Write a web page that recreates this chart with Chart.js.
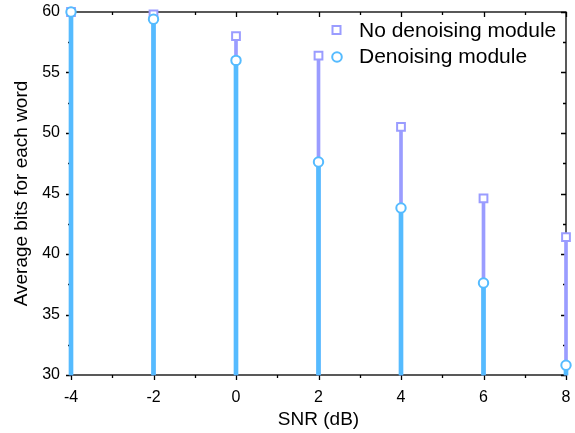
<!DOCTYPE html>
<html>
<head>
<meta charset="utf-8">
<script src="https://cdn.jsdelivr.net/npm/chart.js@4.4.1/dist/chart.umd.min.js"></script>
<style>
  html, body { margin: 0; padding: 0; background: #fff; }
  #wrap { width: 575px; height: 433px; }
</style>
</head>
<body>
<div id="wrap"><canvas id="snr_chart" width="575" height="433"></canvas></div>
<script>
// SNR values on the x axis
var snr = [-4, -2, 0, 2, 4, 6, 8];
// average bits per word
var noDenoise = [60, 59.8, 58.0, 56.4, 50.5, 44.6, 41.4];
var withDenoise = [60, 59.4, 56.0, 47.6, 43.8, 37.6, 30.8];
var seriesNames = ["No denoising module", "Denoising module"];
var xTicks = [-4, -2, 0, 2, 4, 6, 8];
var yTicks = [30, 35, 40, 45, 50, 55, 60];
var xTitle = "SNR (dB)";
var yTitle = "Average bits for each word";

var purple = "#9a9cff";
var blue = "#55bbff";

function pts(vals) {
  return snr.map(function (x, i) { return { x: x, y: vals[i] }; });
}

// frame and ticks go under the stems, like in the original plot
var framePlugin = {
  id: "frame",
  beforeDatasetsDraw: function (chart) {
    var ctx = chart.ctx, a = chart.chartArea;
    var xs = chart.scales.x, ys = chart.scales.y;
    ctx.save();
    ctx.strokeStyle = "#000";
    ctx.lineWidth = 1.3;
    ctx.strokeRect(a.left, a.top, a.right - a.left, a.bottom - a.top);
    ctx.beginPath();
    for (var v = -4; v <= 8; v++) {
      var px = Math.round(xs.getPixelForValue(v)) + 0.5;
      var len = (v % 2 === 0) ? 5 : 3;
      ctx.moveTo(px, a.bottom); ctx.lineTo(px, a.bottom + len);
      ctx.moveTo(px, a.top); ctx.lineTo(px, a.top + len);
    }
    for (var w = 30; w <= 60; w += 2.5) {
      var py = Math.round(ys.getPixelForValue(w)) + 0.5;
      var l2 = (w % 5 === 0) ? 5 : 3;
      ctx.moveTo(a.left, py); ctx.lineTo(a.left - l2, py);
      ctx.moveTo(a.right, py); ctx.lineTo(a.right - l2, py);
    }
    ctx.stroke();

    // axis titles
    ctx.fillStyle = "#000";
    ctx.textAlign = "center";
    ctx.textBaseline = "middle";
    ctx.font = "19px 'Liberation Sans', Arial, sans-serif";
    ctx.fillText(xTitle, (a.left + a.right) / 2, 420);
    ctx.translate(22, (a.top + a.bottom) / 2);
    ctx.rotate(-Math.PI / 2);
    ctx.fillText(yTitle, 0, 0);
    ctx.restore();
  },
  afterDraw: function (chart) {
    var ctx = chart.ctx;
    ctx.save();
    ctx.font = "21px 'Liberation Sans', Arial, sans-serif";
    ctx.textBaseline = "middle";
    ctx.lineWidth = 2;
    ctx.strokeStyle = purple;
    ctx.fillStyle = "#fff";
    ctx.fillRect(332, 26, 9, 9);
    ctx.strokeRect(332.5, 26, 8, 8);
    ctx.strokeStyle = blue;
    ctx.beginPath();
    ctx.arc(337, 57, 4.8, 0, Math.PI * 2);
    ctx.stroke();
    ctx.fillStyle = "#000";
    ctx.fillText(seriesNames[0], 359, 31);
    ctx.fillText(seriesNames[1], 359, 57);
    ctx.restore();
  }
};

var chart = new Chart(document.getElementById("snr_chart"), {
  type: "bar",
  data: {
    datasets: [
      { type: "bar", data: pts(noDenoise), base: 30, backgroundColor: purple, barThickness: 3, grouped: false, clip: false, order: 4 },
      { type: "bar", data: pts(withDenoise), base: 30, backgroundColor: blue, barThickness: 4, grouped: false, clip: false, order: 3 },
      { type: "line", label: seriesNames[0], data: pts(noDenoise), showLine: false, pointStyle: "rect", clip: false,
        pointRadius: 5.5, pointBorderWidth: 2, pointBorderColor: purple, pointBackgroundColor: "#fff", order: 2 },
      { type: "line", label: seriesNames[1], data: pts(withDenoise), showLine: false, pointStyle: "circle", clip: false,
        pointRadius: 4.7, pointBorderWidth: 2, pointBorderColor: blue, pointBackgroundColor: "#fff", order: 1 }
    ]
  },
  options: {
    responsive: false,
    animation: false,
    layout: { padding: { top: 12, right: 9, left: 0, bottom: 0 } },
    plugins: { legend: { display: false }, tooltip: { enabled: false } },
    scales: {
      x: {
        type: "linear", min: -4, max: 8, offset: false,
        grid: { display: false, drawTicks: false },
        border: { display: false },
        afterBuildTicks: function (s) { s.ticks = xTicks.map(function (v) { return { value: v }; }); },
        afterFit: function (s) { s.height = 58; s.paddingLeft = 0; s.paddingRight = 0; },
        ticks: { color: "#000", padding: 13, font: { family: "'Liberation Sans', Arial", size: 16 } }
      },
      y: {
        min: 30, max: 60,
        grid: { display: false, drawTicks: false },
        border: { display: false },
        afterBuildTicks: function (s) { s.ticks = yTicks.map(function (v) { return { value: v }; }); },
        afterFit: function (s) { s.width = 71; s.paddingTop = 0; s.paddingBottom = 0; },
        ticks: { color: "#000", padding: 11, font: { family: "'Liberation Sans', Arial", size: 16 } }
      }
    }
  },
  plugins: [framePlugin]
});
</script>
</body>
</html>
